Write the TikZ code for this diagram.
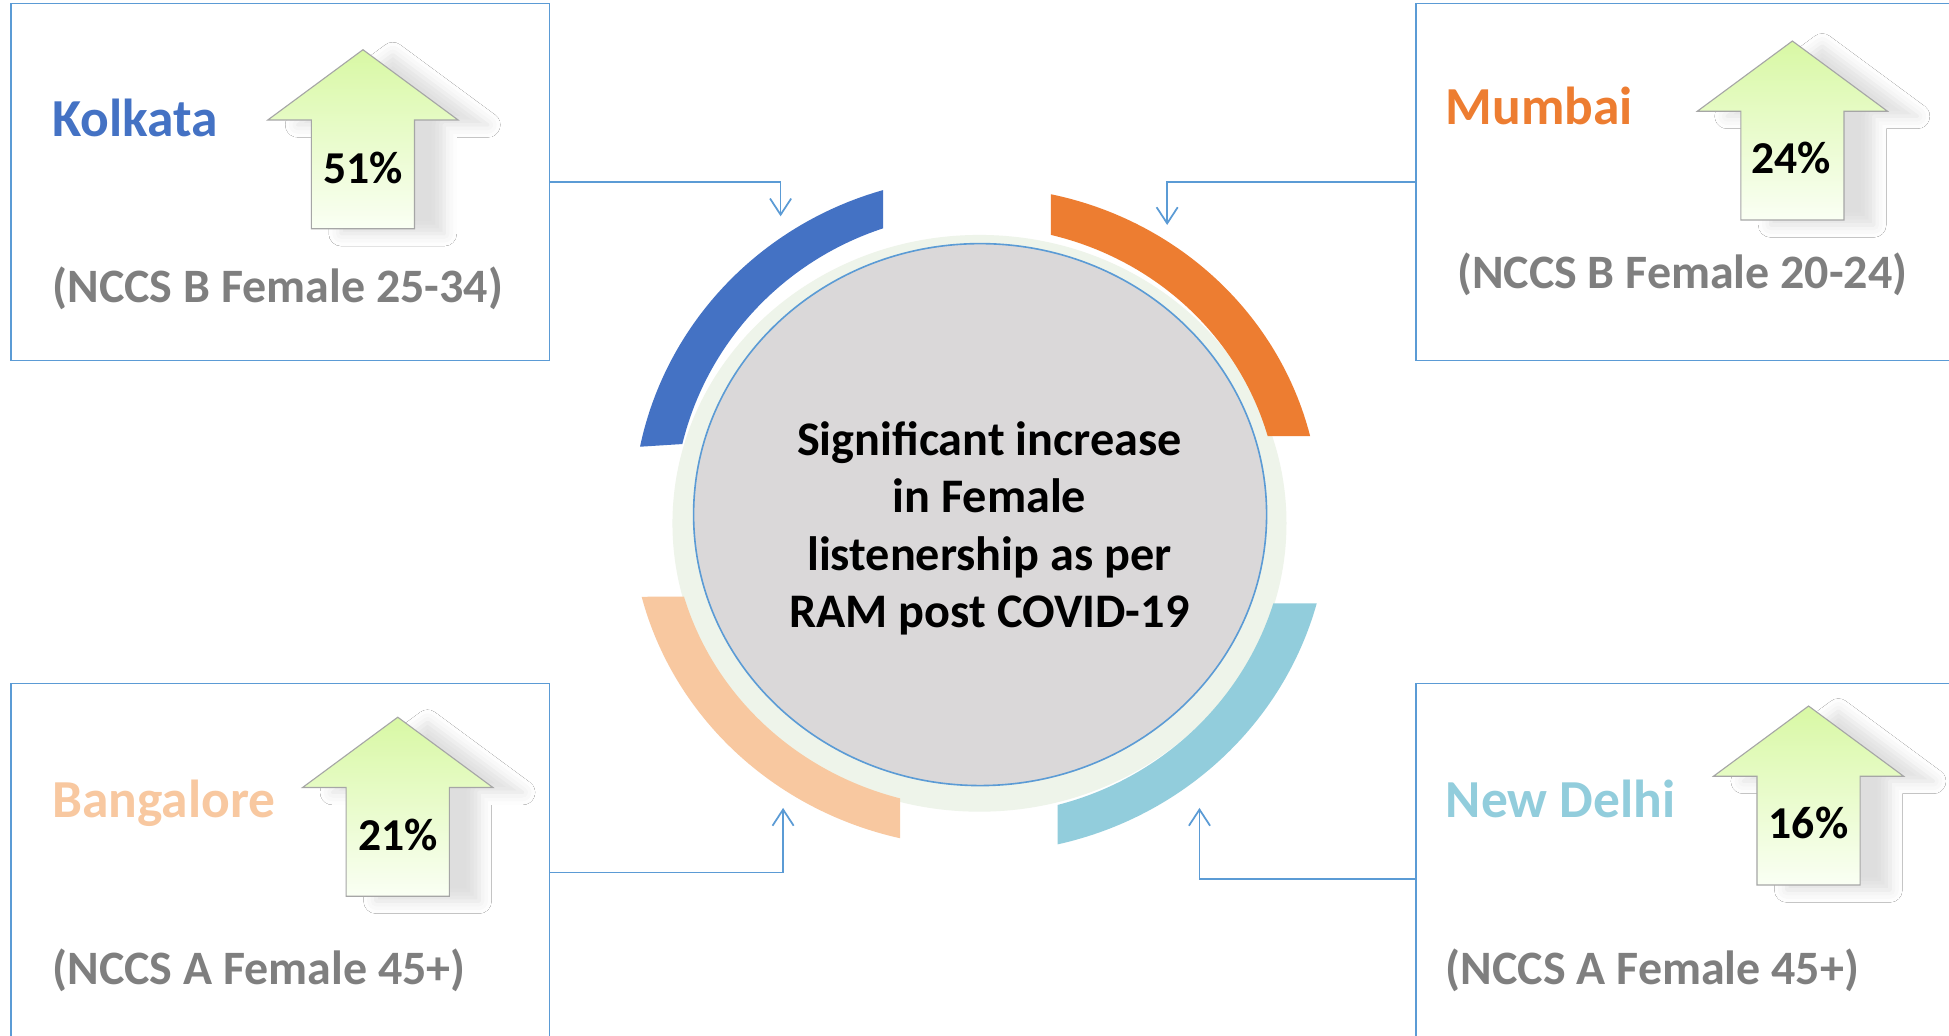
\documentclass[tikz,border=0pt]{standalone}
\usepackage{fontspec}
\setmainfont{Carlito}
\usetikzlibrary{arrows.meta,shapes.geometric,shadows.blur}
\definecolor{kblue}{HTML}{4472C4}
\definecolor{morange}{HTML}{ED7D31}
\definecolor{bpeach}{HTML}{F8C8A0}
\definecolor{dcyan}{HTML}{92CDDC}
\definecolor{lineblue}{HTML}{5B9BD5}
\definecolor{subgray}{HTML}{7F7F7F}
\definecolor{hubfill}{HTML}{DAD8D9}
\definecolor{glow}{HTML}{EEF4EA}
\definecolor{arrtop}{HTML}{D8F8A4}
\definecolor{arrbot}{HTML}{FAFFF4}
\definecolor{arredge}{HTML}{A6A6A6}
\newcommand\growarrow[2]{%
  \path[uparrow] (#1,#2) -- ++(76.5,56.5) -- ++(-35,0) -- ++(0,87.5) -- ++(-83,0) -- ++(0,-87.5) -- ++(-35,0) -- cycle;}
% colour, outer a, outer b, outer t1, outer t2, inner a, inner b, inner t1, inner t2
\newcommand\bandseg[9]{%
  \fill[#1] (#4:#2pt and #3pt) arc[start angle=#4,end angle=#5,x radius=#2pt,y radius=#3pt]
    -- (#9:#6pt and #7pt) arc[start angle=#9,end angle=#8,x radius=#6pt,y radius=#7pt] -- cycle;}
\begin{document}
\begin{tikzpicture}[x=1pt,y=-1pt,
  cbox/.style={draw=lineblue,line width=1.2pt,rectangle,inner sep=0pt},
  city/.style={anchor=base west,inner sep=0pt,font=\fontsize{43}{51}\selectfont\bfseries},
  sub/.style={anchor=base west,inner sep=0pt,text=subgray,font=\fontsize{38.6}{46}\selectfont\bfseries},
  pct/.style={inner sep=0pt,font=\fontsize{36.7}{44}\selectfont\bfseries},
  conn/.style={draw=lineblue,line width=1.4pt,-{Straight Barb[length=13pt,width=17pt,line width=1.4pt]}},
  uparrow/.style={draw=arredge,line width=0.9pt,top color=arrtop,bottom color=arrbot,
    blur shadow={shadow xshift=24pt,shadow yshift=-4pt,shadow blur radius=10pt,shadow opacity=13}}]
\useasboundingbox (0,0) rectangle (1568,833);
\fill[white] (0,0) rectangle (1568,833);

% boxes
\node[cbox,minimum width=433pt,minimum height=287pt] (kbox) at (225.5,146.5) {};
\node[cbox,minimum width=441pt,minimum height=287pt] (mbox) at (1359.5,146.5) {};
\node[cbox,minimum width=433pt,minimum height=304pt] (bbox) at (225.5,702) {};
\node[cbox,minimum width=441pt,minimum height=304pt] (dbox) at (1359.5,702) {};

% glow ring and hub
\node[ellipse,fill=glow,inner sep=0pt,minimum width=494pt,minimum height=464pt] (glowring) at (788,421) {};
\node[ellipse,fill=hubfill,draw=lineblue,line width=1.3pt,inner sep=0pt,minimum width=461pt,minimum height=436pt] (hub) at (788.5,414) {};

% bands
\begin{scope}[shift={(788,414)}]
  \bandseg{kblue}{278.8}{271.8}{106.16}{168.41}{245.9}{242.7}{108.40}{166.47}
  \bandseg{morange}{274.0}{263.6}{13.87}{77.88}{241.0}{231.7}{15.83}{76.20}
  \bandseg{bpeach}{280.5}{267.4}{194.31}{256.84}{247.6}{236.3}{196.24}{255.04}
  \bandseg{dcyan}{281.2}{272.2}{282.93}{344.79}{247.5}{241.5}{284.74}{342.80}
\end{scope}

\node[align=center,inner sep=0pt,font=\fontsize{38.8}{46}\selectfont\bfseries] (title) at (796,425)
  {Significant increase\\in Female\\listenership as per\\RAM post COVID-19};

% connectors
\coordinate (kin) at (628,174);
\coordinate (min) at (939,181);
\coordinate (bin) at (630,650);
\coordinate (din) at (965,650);
\draw[conn] (kbox.east) -| (kin);
\draw[conn] (mbox.west) -| (min);
\draw[conn] (bbox.east) -| (bin);
\draw[conn] ([yshift=-5pt]dbox.west) -| (din);

% growth arrows
\growarrow{292}{40}
\growarrow{1442}{33}
\growarrow{320}{577}
\growarrow{1455}{568}
\node[pct] (kpct) at (292,135) {51\%};
\node[pct] (mpct) at (1441,127) {24\%};
\node[pct] (bpct) at (320,672) {21\%};
\node[pct] (dpct) at (1455,662) {16\%};

% texts
\node[city,text=kblue] (kname) at (42,110) {Kolkata};
\node[sub] (ksub) at (42,243) {(NCCS B Female 25-34)};
\node[city,text=morange] (mname) at (1163,100) {Mumbai};
\node[sub] (msub) at (1172,232) {(NCCS B Female 20-24)};
\node[city,text=bpeach] (bname) at (42,658) {Bangalore};
\node[sub] (bsub) at (42,792) {(NCCS A Female 45+)};
\node[city,text=dcyan] (dname) at (1163,658) {New Delhi};
\node[sub] (dsub) at (1163,792) {(NCCS A Female 45+)};
\end{tikzpicture}
\end{document}
